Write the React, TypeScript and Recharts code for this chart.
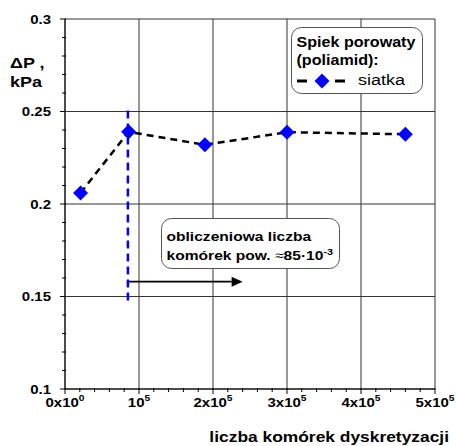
import { ComposedChart, Line, XAxis, YAxis, ReferenceLine, Legend } from "recharts"

// liczba komórek vs spadek ciśnienia (siatka)
const cells = [21000, 86000, 189000, 300000, 460000]
const deltaP = [0.206, 0.239, 0.232, 0.2388, 0.2377]

const xTicks = [0, 100000, 200000, 300000, 400000, 500000]
const xTickBase = ["0x10", "10", "2x10", "3x10", "4x10", "5x10"]
const xTickExp = ["0", "5", "5", "5", "5", "5"]
const xMinorTicks = Array.from({ length: 26 }, (_, i) => i * 20000)

const yTicks = [0.1, 0.15, 0.2, 0.25, 0.3]
const yTickLabels = ["0.1", "0.15", "0.2", "0.25", "0.3"]
const yMinorTicks = Array.from({ length: 21 }, (_, i) => Math.round((0.1 + i * 0.01) * 1000) / 1000)

// obliczeniowa liczba komórek (pionowa linia) i strzałka
const designCells = 85000
const designTop = 0.2505
const designBottom = 0.147
const arrowY = 0.158
const arrowEnd = 240000

const data = cells.map((c, i) => ({ cells: c, dp: deltaP[i] }))

const FONT = "'Liberation Sans', Arial, sans-serif"
const SX = 1.2

function SText({ x, y, size, bold = true, anchor = "start", sx = SX, children }: any) {
  return (
    <text
      transform={`translate(${x},${y}) scale(${sx},1)`}
      textAnchor={anchor}
      fontSize={size}
      fontWeight={bold ? "bold" : "normal"}
      fontFamily={FONT}
      fill="#000"
    >
      {children}
    </text>
  )
}

// ticks: minor every 2e4 / 0.01, major with label
const XTick = (props: any) => {
  const { x, y, payload } = props
  const i = xTicks.indexOf(payload.value)
  const major = i >= 0
  return (
    <g>
      <line x1={x} y1={y - 1} x2={x} y2={y + (major ? 5 : 3)} stroke="#000" />
      {major && (
        <SText x={x} y={y + 18} size={12.5} anchor="middle">
          {xTickBase[i]}
          <tspan dy={-6} fontSize={8.5}>{xTickExp[i]}</tspan>
        </SText>
      )}
    </g>
  )
}

const YTick = (props: any) => {
  const { x, y, payload } = props
  const i = yTicks.findIndex((t) => Math.abs(t - payload.value) < 1e-6)
  const major = i >= 0
  return (
    <g>
      <line x1={x - (major ? 5 : 3)} y1={y} x2={x + 1} y2={y} stroke="#000" />
      {major && (
        <SText x={x - 14} y={y + 4.5} size={12.5} anchor="end">
          {yTickLabels[i]}
        </SText>
      )}
    </g>
  )
}

const Diamond = (props: any) => {
  const { cx, cy } = props
  if (cx == null || cy == null) return null
  const r = 7.5
  return (
    <polygon
      points={`${cx},${cy - r} ${cx + r},${cy} ${cx},${cy + r} ${cx - r},${cy}`}
      fill="#0000FF"
    />
  )
}

const Arrow = (props: any) => {
  const { x1, y1, x2, y2 } = props
  const head = 11
  return (
    <g>
      <line x1={x1} y1={y1} x2={x2 - head} y2={y2} stroke="#000" strokeWidth={1.8} />
      <polygon points={`${x2},${y2} ${x2 - head},${y2 - 5} ${x2 - head},${y2 + 5}`} fill="#000" />
    </g>
  )
}

const LegendBox = () => (
  <svg width={133} height={68} style={{ display: "block" }}>
    <rect x={0.5} y={0.5} width={131} height={66} rx={10} fill="#fff" stroke="#555" />
    <SText x={5.5} y={19.5} size={14} sx={1.15}>Spiek porowaty</SText>
    <SText x={5.5} y={37.5} size={14} sx={1.15}>(poliamid):</SText>
    <line x1={6} y1={54} x2={16} y2={54} stroke="#000" strokeWidth={3} />
    <line x1={44} y1={54} x2={54} y2={54} stroke="#000" strokeWidth={3} />
    <Diamond cx={31} cy={54} />
    <SText x={67} y={58} size={15} bold={false}>siatka</SText>
  </svg>
)

export default function App() {
  return (
    <div style={{ position: "absolute", left: 0, top: 0, width: 456, height: 446, background: "#fff" }}>
      <ComposedChart width={456} height={446} data={data} margin={{ top: 19, right: 21, left: 0, bottom: 0 }}>
        {xTicks.map((t) => (
          <ReferenceLine key={`gx-${t}`} x={t} stroke="#333" strokeWidth={1} />
        ))}
        {yTicks.map((t) => (
          <ReferenceLine key={`gy-${t}`} y={t} stroke="#333" strokeWidth={1} />
        ))}
        <XAxis
          type="number"
          dataKey="cells"
          domain={[0, 500000]}
          ticks={xMinorTicks}
          interval={0}
          tick={<XTick />}
          tickLine={false}
          tickSize={0}
          tickMargin={0}
          height={57}
          axisLine={{ stroke: "#000" }}
          label={{
            content: (p: any) => {
              const vb = p.viewBox
              return (
                <SText x={vb.x + vb.width + 14} y={vb.y + 53} size={14.5} anchor="end">
                  liczba komórek dyskretyzacji
                </SText>
              )
            },
          }}
        />
        <YAxis
          type="number"
          domain={[0.1, 0.3]}
          ticks={yMinorTicks}
          interval={0}
          tick={<YTick />}
          tickLine={false}
          tickSize={0}
          tickMargin={0}
          width={65}
          axisLine={{ stroke: "#000" }}
          label={{
            content: (p: any) => {
              const vb = p.viewBox
              return (
                <g>
                  <SText x={vb.x + 10} y={vb.y + 49} size={15}>ΔP ,</SText>
                  <SText x={vb.x + 10} y={vb.y + 68} size={15}>kPa</SText>
                </g>
              )
            },
          }}
        />
        <ReferenceLine
          segment={[{ x: designCells, y: arrowY }, { x: arrowEnd, y: arrowY }]}
          shape={(p: any) => <Arrow {...p} />}
        />
        <ReferenceLine
          segment={[{ x: designCells, y: designTop }, { x: designCells, y: designBottom }]}
          stroke="#0000FF"
          strokeWidth={2.5}
          strokeDasharray="8 5"
        />
        <Line
          dataKey="dp"
          stroke="#000"
          strokeWidth={2.5}
          strokeDasharray="7 5"
          dot={(p: any) => <Diamond key={`d-${p.index}`} {...p} />}
          activeDot={false}
          isAnimationActive={false}
        />
        <Legend
          layout="horizontal"
          verticalAlign="middle"
          align="center"
          content={() => <LegendBox />}
          wrapperStyle={{ left: 291, top: 27, width: 133, height: 68 }}
        />
      </ComposedChart>
      <svg width={181} height={52} style={{ position: "absolute", left: 161, top: 218 }}>
        <rect x={0.5} y={0.5} width={178} height={50} rx={10} fill="#fff" stroke="#555" />
        <SText x={5.5} y={23} size={13}>obliczeniowa liczba</SText>
        <SText x={5.5} y={42} size={13}>
          komórek pow. <tspan fontWeight="normal">≈</tspan>85·10<tspan dy={-5} fontSize={9}>-3</tspan>
        </SText>
      </svg>
    </div>
  )
}
